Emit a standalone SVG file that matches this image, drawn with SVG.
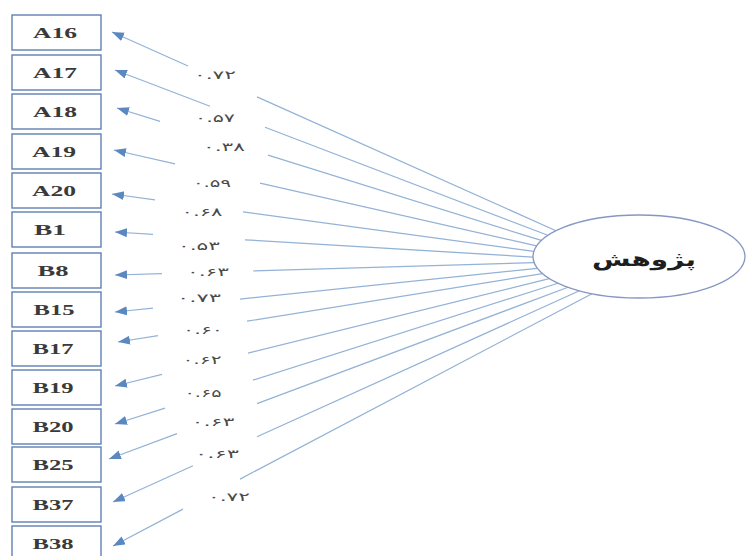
<svg xmlns="http://www.w3.org/2000/svg" width="750" height="556" viewBox="0 0 750 556">
<defs>
<marker id="ah" markerUnits="userSpaceOnUse" markerWidth="13" markerHeight="10" refX="12" refY="4.5" orient="auto">
<path d="M0,0 L12,4.5 L0,9 z" fill="#5a88bf"/>
</marker>
<style>
.box{fill:#fff;stroke:#5f80b3;stroke-width:1.4}
.bt{font-family:"Liberation Serif",serif;font-weight:bold;font-size:15px;fill:#3a3a3a;text-anchor:middle}
.ln{fill:none;stroke:#93b2d6;stroke-width:1.2;marker-end:url(#ah)}
.lb{font-family:"DejaVu Sans",sans-serif;font-size:11.5px;fill:#4a4a4a;text-anchor:middle}
.el{fill:#fff;stroke:#8797c4;stroke-width:1.3}
.et{font-family:"DejaVu Sans",sans-serif;font-weight:bold;font-size:19px;fill:#1e1e1e;text-anchor:middle}
</style>
</defs>
<rect width="750" height="556" fill="#fff"/>
<g id="connectors">
<path class="ln" d="M556,230.7 L257,96.9 M188,66 L112,32"/>
<path class="ln" d="M547.8,235.3 L265,127.3 M210,106.3 L115,70"/>
<path class="ln" d="M541.3,240.4 L268,155.1 M160,121.4 L117,108"/>
<path class="ln" d="M536.6,245.8 L260,183.1 M175,163.8 L114,150"/>
<path class="ln" d="M533.8,251.4 L243,211.8 M155,199.9 L112,194"/>
<path class="ln" d="M533,257.1 L245,239.8 M153,234.3 L115,232"/>
<path class="ln" d="M534.2,262.7 L253,271 M162,273.6 L115,275"/>
<path class="ln" d="M537.4,268.3 L240,299.1 M153,308.1 L115,312"/>
<path class="ln" d="M542.5,273.6 L247,321.2 M158,335.6 L118,342"/>
<path class="ln" d="M549.3,278.6 L248,353.1 M162,374.4 L115,386"/>
<path class="ln" d="M557.9,283.2 L253,380.1 M165,408.1 L115,424"/>
<path class="ln" d="M568,287.3 L257,403.6 M177,433.6 L109,459"/>
<path class="ln" d="M579.4,290.8 L257,436.8 M193,465.8 L113,502"/>
<path class="ln" d="M592,293.7 L240,479.1 M183,509.1 L113,546"/>
</g>
<g id="labels">
<text class="lb" x="215" y="79" textLength="42" lengthAdjust="spacingAndGlyphs">۰.۷۲</text>
<text class="lb" x="215" y="122" textLength="40" lengthAdjust="spacingAndGlyphs">۰.۵۷</text>
<text class="lb" x="224" y="151" textLength="42" lengthAdjust="spacingAndGlyphs">۰.۳۸</text>
<text class="lb" x="212" y="187" textLength="38" lengthAdjust="spacingAndGlyphs">۰.۵۹</text>
<text class="lb" x="202" y="216" textLength="41" lengthAdjust="spacingAndGlyphs">۰.۶۸</text>
<text class="lb" x="199" y="250" textLength="42" lengthAdjust="spacingAndGlyphs">۰.۵۳</text>
<text class="lb" x="208" y="276" textLength="42" lengthAdjust="spacingAndGlyphs">۰.۶۳</text>
<text class="lb" x="199" y="302" textLength="44" lengthAdjust="spacingAndGlyphs">۰.۷۳</text>
<text class="lb" x="203" y="334" textLength="40" lengthAdjust="spacingAndGlyphs">۰.۶۰</text>
<text class="lb" x="202" y="364" textLength="39" lengthAdjust="spacingAndGlyphs">۰.۶۲</text>
<text class="lb" x="203" y="397" textLength="37" lengthAdjust="spacingAndGlyphs">۰.۶۵</text>
<text class="lb" x="213" y="426" textLength="43" lengthAdjust="spacingAndGlyphs">۰.۶۳</text>
<text class="lb" x="217" y="458" textLength="44" lengthAdjust="spacingAndGlyphs">۰.۶۳</text>
<text class="lb" x="229" y="501" textLength="42" lengthAdjust="spacingAndGlyphs">۰.۷۲</text>
</g>
<g id="n-A16"><rect class="box" x="12" y="15" width="89" height="35"/><text class="bt" x="55" y="38" textLength="44" lengthAdjust="spacingAndGlyphs">A16</text></g>
<g id="n-A17"><rect class="box" x="12" y="55" width="89" height="35"/><text class="bt" x="55" y="78" textLength="44" lengthAdjust="spacingAndGlyphs">A17</text></g>
<g id="n-A18"><rect class="box" x="12" y="94" width="89" height="35"/><text class="bt" x="55" y="117" textLength="44" lengthAdjust="spacingAndGlyphs">A18</text></g>
<g id="n-A19"><rect class="box" x="12" y="134" width="89" height="35"/><text class="bt" x="54" y="157" textLength="44" lengthAdjust="spacingAndGlyphs">A19</text></g>
<g id="n-A20"><rect class="box" x="12" y="173" width="89" height="35"/><text class="bt" x="54" y="196" textLength="44" lengthAdjust="spacingAndGlyphs">A20</text></g>
<g id="n-B1"><rect class="box" x="12" y="212" width="89" height="35"/><text class="bt" x="50" y="235" textLength="32" lengthAdjust="spacingAndGlyphs">B1</text></g>
<g id="n-B8"><rect class="box" x="12" y="253" width="89" height="35"/><text class="bt" x="53" y="276" textLength="31" lengthAdjust="spacingAndGlyphs">B8</text></g>
<g id="n-B15"><rect class="box" x="12" y="292" width="89" height="35"/><text class="bt" x="54" y="315" textLength="41" lengthAdjust="spacingAndGlyphs">B15</text></g>
<g id="n-B17"><rect class="box" x="12" y="331" width="89" height="35"/><text class="bt" x="53" y="354" textLength="41" lengthAdjust="spacingAndGlyphs">B17</text></g>
<g id="n-B19"><rect class="box" x="12" y="370" width="89" height="35"/><text class="bt" x="53" y="393" textLength="41" lengthAdjust="spacingAndGlyphs">B19</text></g>
<g id="n-B20"><rect class="box" x="12" y="409" width="89" height="35"/><text class="bt" x="53" y="432" textLength="41" lengthAdjust="spacingAndGlyphs">B20</text></g>
<g id="n-B25"><rect class="box" x="12" y="447" width="89" height="35"/><text class="bt" x="53" y="470" textLength="41" lengthAdjust="spacingAndGlyphs">B25</text></g>
<g id="n-B37"><rect class="box" x="12" y="487" width="89" height="35"/><text class="bt" x="53" y="510" textLength="41" lengthAdjust="spacingAndGlyphs">B37</text></g>
<g id="n-B38"><rect class="box" x="12" y="526" width="89" height="35"/><text class="bt" x="53" y="549" textLength="41" lengthAdjust="spacingAndGlyphs">B38</text></g>
<g id="n-research"><ellipse class="el" cx="639" cy="256.5" rx="106" ry="41.5"/><text class="et" x="644" y="266" textLength="104" lengthAdjust="spacingAndGlyphs">پژوهش</text></g>
</svg>
